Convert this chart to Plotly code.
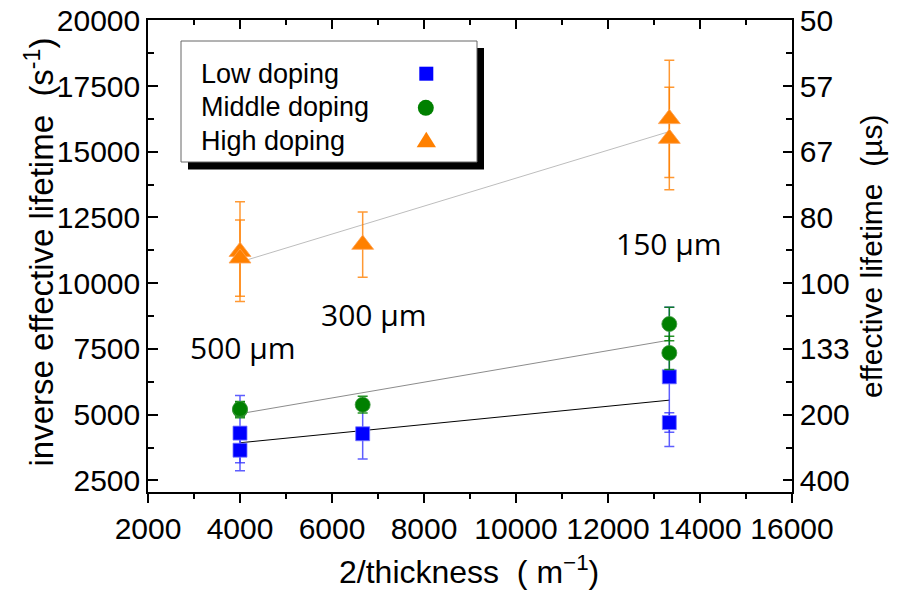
import numpy as np
import plotly.graph_objects as go

# ---------------- data ----------------
x_low = [4000, 4000, 6667, 13333, 13333]
y_low = [4300, 3650, 4275, 6440, 4700]
e_low = [1430, 480, 960, 2650, 370]

x_mid = [4000, 4000, 6667, 13333, 13333]
y_mid = [5180, 5220, 5380, 8450, 7350]
e_mid = [300, 280, 320, 640, 630]

x_high = [4000, 4000, 6667, 13333, 13333]
y_high = [11200, 10950, 11470, 16250, 15500]
e_high = [1900, 1450, 1240, 2230, 1950]

x_ticks = [2000, 4000, 6000, 8000, 10000, 12000, 14000, 16000]
x_ticks_minor = [3000, 5000, 7000, 9000, 11000, 13000, 15000]
y_ticks = [2500, 5000, 7500, 10000, 12500, 15000, 17500, 20000]
y_ticks_minor = [3750, 6250, 8750, 11250, 13750, 16250, 18750]
right_tick_text = ["400", "200", "133", "100", "80", "67", "57", "50"]

series_names = ["Low doping", "Middle doping", "High doping"]
thickness_labels = ["500 µm", "300 µm", "150 µm"]

# ---------------- geometry helpers (layout only) ----------------
OFF = 8  # page body margin
W, H = 901 - OFF, 590 - OFF
L, R, T, B = 148, 792, 20, 492  # plot area in reference pixels


def pxx(p):
    return (p - L) / (R - L)


def pxy(p):
    return (B - p) / (B - T)


TICKFONT = dict(family="Liberation Sans, Arial, sans-serif", size=30, color="black")
TITLEFONT = dict(family="Liberation Sans, Arial, sans-serif", size=32, color="black")

fig = go.Figure()

# fit lines
fit_colors = ["#000000", "#8c8c8c", "#bdbdbd"]
for xs, ys, col in [(x_low, y_low, fit_colors[0]), (x_mid, y_mid, fit_colors[1]), (x_high, y_high, fit_colors[2])]:
    k, b = np.polyfit(xs, ys, 1)
    xf = np.array([min(xs), max(xs)])
    fig.add_trace(go.Scatter(x=xf, y=k * xf + b, mode="lines",
                             line=dict(color=col, width=1), showlegend=False, hoverinfo="skip"))

# data points
specs = [
    (x_low, y_low, e_low, "square", 14, "#0000ff", "rgba(40,40,255,0.75)", "rgba(120,120,255,0.8)"),
    (x_mid, y_mid, e_mid, "circle", 15, "#008000", "rgba(0,128,0,0.85)", "rgba(60,150,60,0.8)"),
    (x_high, y_high, e_high, "triangle-up", 19, "#ff8000", "rgba(255,128,0,0.8)", "rgba(255,160,80,0.8)"),
]
for (xs, ys, es, sym, sz, col, ecol, lcol), name in zip(specs, series_names):
    fig.add_trace(go.Scatter(
        x=xs, y=ys, mode="markers", name=name, showlegend=False,
        marker=dict(symbol=sym, size=sz, color=col, line=dict(color=lcol, width=1)),
        error_y=dict(type="data", array=es, visible=True, color=ecol, thickness=1.5, width=5),
    ))

# empty trace to activate secondary axes
fig.add_trace(go.Scatter(x=[], y=[], xaxis="x2", yaxis="y2", showlegend=False))

common_axis = dict(showline=True, linecolor="black", linewidth=1.5, showgrid=False, zeroline=False,
                   tickcolor="black", tickwidth=1.5, ticklabeloverflow="allow", automargin=False)

fig.update_layout(
    width=W, height=H,
    margin=dict(l=L - OFF, r=901 - R, t=T - OFF, b=590 - B, autoexpand=False),
    paper_bgcolor="white", plot_bgcolor="white",
    showlegend=False,
    xaxis=dict(
        range=[2000, 16000], tickmode="array", tickvals=x_ticks,
        ticktext=[str(v) for v in x_ticks],
        ticks="outside", ticklen=9,
        minor=dict(tickvals=x_ticks_minor, ticks="outside", ticklen=5, tickwidth=1.5, tickcolor="black"),
        tickfont=TICKFONT, **common_axis,
    ),
    xaxis2=dict(
        range=[2000, 16000], overlaying="x", side="top", anchor="y",
        tickmode="array", tickvals=x_ticks,
        ticks="inside", ticklen=9,
        minor=dict(tickvals=x_ticks_minor, ticks="inside", ticklen=5, tickwidth=1.5, tickcolor="black"),
        showticklabels=False, **common_axis,
    ),
    yaxis=dict(
        range=[2060, 20010], tickmode="array", tickvals=y_ticks,
        ticktext=[str(v) for v in y_ticks],
        ticks="inside", ticklen=10,
        minor=dict(tickvals=y_ticks_minor, ticks="inside", ticklen=6, tickwidth=1.5, tickcolor="black"),
        tickfont=TICKFONT, **common_axis,
    ),
    yaxis2=dict(
        range=[2060, 20010], overlaying="y", side="right", anchor="x2",
        tickmode="array", tickvals=y_ticks, ticktext=right_tick_text,
        ticks="inside", ticklen=9,
        minor=dict(tickvals=y_ticks_minor, ticks="inside", ticklen=6, tickwidth=1.5, tickcolor="black"),
        tickfont=TICKFONT, **common_axis,
    ),
)

# ---------------- custom legend ----------------
shapes = [
    dict(type="rect", xref="paper", yref="paper", x0=pxx(188), x1=pxx(484), y0=pxy(169.5), y1=pxy(48),
         fillcolor="black", line=dict(width=0)),
    dict(type="rect", xref="paper", yref="paper", x0=pxx(181), x1=pxx(477), y0=pxy(162), y1=pxy(41),
         fillcolor="white", line=dict(color="#666666", width=1)),
    dict(type="rect", xref="paper", yref="paper", x0=pxx(419.3), x1=pxx(433.3), y0=pxy(80.7), y1=pxy(66.7),
         fillcolor="#0000ff", line=dict(width=0)),
    dict(type="circle", xref="paper", yref="paper", x0=pxx(417.8), x1=pxx(433.8), y0=pxy(115.8), y1=pxy(99.8),
         fillcolor="#008000", line=dict(width=0)),
    dict(type="path", xref="paper", yref="paper",
         path="M %f,%f L %f,%f L %f,%f Z" % (pxx(416.7), pxy(147.3), pxx(436), pxy(147.3), pxx(426.3), pxy(131.7)),
         fillcolor="#ff8000", line=dict(width=0)),
]
fig.update_layout(shapes=shapes)

LEGFONT = dict(family="Liberation Sans, Arial, sans-serif", size=27, color="black")
for name, yy in zip(series_names, [74, 107, 140.5]):
    fig.add_annotation(x=pxx(199), y=pxy(yy), xref="paper", yref="paper", text=name,
                       showarrow=False, xanchor="left", yanchor="middle", font=LEGFONT)

# thickness labels
LABFONT = dict(family="Open Sans, Noto Sans, sans-serif", size=30, color="black")
for txt, (cx, cy) in zip(thickness_labels, [(242.5, 347), (373.5, 314), (668.5, 244)]):
    fig.add_annotation(x=pxx(cx), y=pxy(cy), xref="paper", yref="paper", text=txt,
                       showarrow=False, xanchor="center", yanchor="middle", font=LABFONT)

# axis titles
fig.add_annotation(x=pxx(40), y=pxy(252.5), xref="paper", yref="paper",
                   text="inverse effective lifetime\u00a0\u00a0(s<sup>-1</sup>)", textangle=-90,
                   showarrow=False, xanchor="center", yanchor="middle",
                   font=dict(TITLEFONT, size=33))
fig.add_annotation(x=pxx(871), y=pxy(257), xref="paper", yref="paper",
                   text="effective lifetime\u00a0\u00a0(µs)", textangle=-90,
                   showarrow=False, xanchor="center", yanchor="middle",
                   font=dict(TITLEFONT, size=30))
fig.add_annotation(x=pxx(469), y=pxy(570), xref="paper", yref="paper",
                   text="2/thickness\u00a0\u00a0(\u00a0m<sup>\u22121</sup>)",
                   showarrow=False, xanchor="center", yanchor="middle", font=TITLEFONT)

fig.write_html("out.html")
